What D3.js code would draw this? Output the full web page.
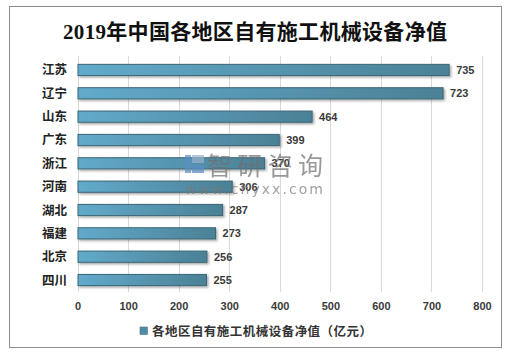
<!DOCTYPE html>
<html><head><meta charset="utf-8">
<script src="https://cdn.jsdelivr.net/npm/d3@7"></script>
<style>
html,body{margin:0;padding:0;background:#fff;}
svg{display:block;}
</style></head>
<body>
<svg id="chart" width="508" height="355"></svg>
<script>
const title = "2019年中国各地区自有施工机械设备净值";
const categories = ["江苏","辽宁","山东","广东","浙江","河南","湖北","福建","北京","四川"];
const values = [735,723,464,399,370,306,287,273,256,255];
const xTicks = [0,100,200,300,400,500,600,700,800];
const legendLabel = "各地区自有施工机械设备净值（亿元）";

const svg = d3.select("#chart");

// outer frame
svg.append("rect").attr("x",9.5).attr("y",6.5).attr("width",492).attr("height",341)
  .attr("fill","#fff").attr("stroke","#8c8c8c").attr("stroke-width",1);

// title
svg.append("text").attr("x",255).attr("y",39).attr("text-anchor","middle")
  .attr("font-family","'Liberation Serif','Noto Sans CJK SC',serif")
  .attr("font-size",21).attr("font-weight","bold").attr("fill","#111")
  .attr("textLength",384).attr("lengthAdjust","spacing")
  .text(title);

const x = d3.scaleLinear().domain([0,800]).range([77.5,482]);
const y = d3.scaleBand().domain(categories).range([58.3,291.7]).paddingInner(0.52).paddingOuter(0.26);

// grid
svg.append("g").selectAll("line").data(xTicks).join("line")
  .attr("x1",d=>Math.round(x(d))+0.5).attr("x2",d=>Math.round(x(d))+0.5)
  .attr("y1",56).attr("y2",292)
  .attr("stroke","#d9d9d9").attr("stroke-width",1);

// gradient
const defs = svg.append("defs");
const grad = defs.append("linearGradient").attr("id","barGrad")
  .attr("gradientUnits","objectBoundingBox").attr("x1",0).attr("x2",1).attr("y1",0).attr("y2",0);
grad.append("stop").attr("offset","0%").attr("stop-color","#62aacb");
grad.append("stop").attr("offset","100%").attr("stop-color","#4b8196");
const f = defs.append("filter").attr("id","shadow").attr("x","-5%").attr("y","-50%").attr("width","115%").attr("height","220%");
f.append("feDropShadow").attr("dx",1.5).attr("dy",1.5).attr("stdDeviation",1).attr("flood-color","#000").attr("flood-opacity",0.35);

// bars
svg.append("g").selectAll("rect").data(categories).join("rect")
  .attr("x",x(0)+0.5).attr("y",d=>y(d))
  .attr("width",(d,i)=>x(values[i])-x(0)-0.5).attr("height",y.bandwidth())
  .attr("fill","url(#barGrad)").attr("stroke","#3b6676").attr("stroke-width",1)
  .attr("filter","url(#shadow)");

// value labels
svg.append("g").selectAll("text").data(categories).join("text")
  .attr("x",(d,i)=>x(values[i])+7).attr("y",d=>y(d)+y.bandwidth()/2+4)
  .attr("font-family","'Liberation Sans Narrow','Liberation Sans',sans-serif")
  .attr("font-size",11).attr("font-weight","bold").attr("fill","#3a3a3a")
  .text((d,i)=>values[i]);

// category labels
svg.append("g").selectAll("text").data(categories).join("text")
  .attr("x",67).attr("y",d=>y(d)+y.bandwidth()/2+4.5)
  .attr("text-anchor","end")
  .attr("font-family","'Noto Sans CJK SC',sans-serif")
  .attr("font-size",12.5).attr("font-weight","bold").attr("fill","#222")
  .text(d=>d);

// x axis tick labels
const axis = d3.axisBottom(x).tickValues(xTicks).tickSize(0).tickPadding(0);
const ax = svg.append("g").attr("transform","translate(0,302)").call(axis);
ax.select(".domain").remove();
ax.selectAll("text").attr("font-family","'Liberation Sans Narrow','Liberation Sans',sans-serif")
  .attr("font-size",11).attr("font-weight","bold").attr("fill","#3a3a3a");

// legend
svg.append("rect").attr("x",140).attr("y",327).attr("width",7.5).attr("height",7.5)
  .attr("fill","#4f8ca6").attr("stroke","#3b6676").attr("stroke-width",0.5);
svg.append("text").attr("x",152).attr("y",335.5)
  .attr("font-family","'Noto Sans CJK SC',sans-serif")
  .attr("font-size",12.5).attr("font-weight","bold").attr("fill","#333")
  .attr("textLength",220).attr("lengthAdjust","spacing")
  .text(legendLabel);

// watermark
const wm = svg.append("g").attr("opacity",0.7);
wm.append("rect").attr("x",185).attr("y",155).attr("width",6).attr("height",18).attr("fill","#5b8fc6");
wm.append("rect").attr("x",192).attr("y",155).attr("width",12).attr("height",8).attr("fill","#9ab3cc");
wm.append("rect").attr("x",192).attr("y",165).attr("width",12).attr("height",8).attr("fill","#5b8fc6");
wm.append("text").attr("x",207).attr("y",175)
  .attr("font-family","'Noto Sans CJK SC',sans-serif").attr("font-size",25).attr("fill","#6f6f6f")
  .attr("textLength",116).attr("lengthAdjust","spacing")
  .text("智研咨询");
wm.append("text").attr("x",185).attr("y",194)
  .attr("font-family","'DejaVu Sans',sans-serif").attr("font-size",14).attr("fill","#777")
  .attr("textLength",138).attr("lengthAdjust","spacing").text("www.chyxx.com");
</script>
</body></html>
